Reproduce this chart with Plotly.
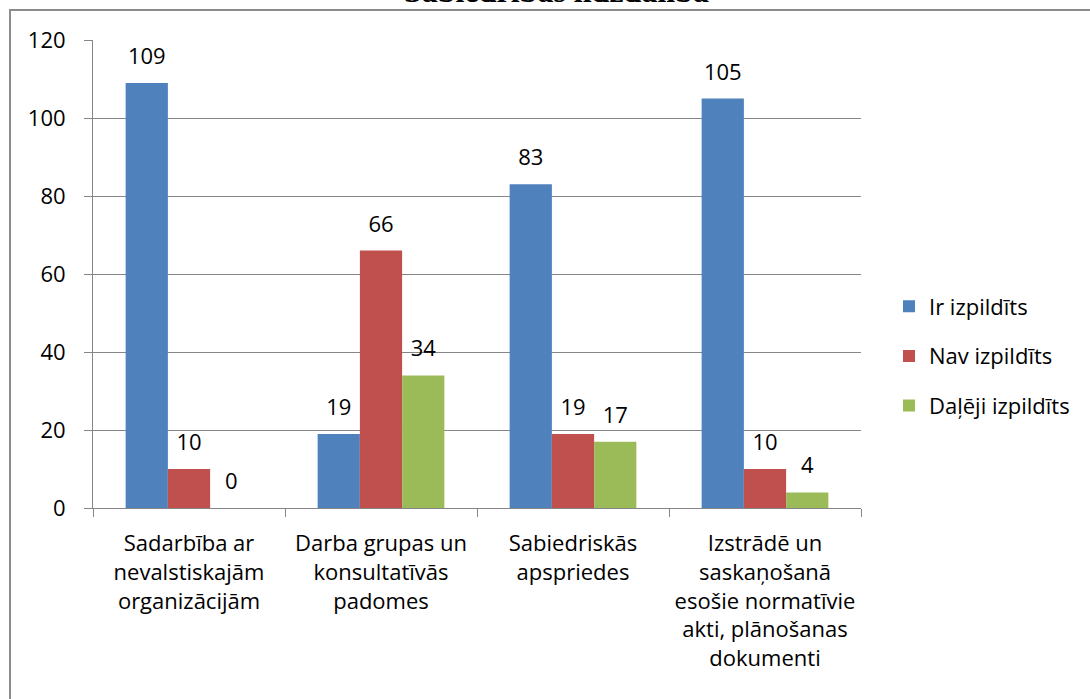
import plotly.graph_objects as go

categories = [
    "Sadarbība ar<br>nevalstiskajām<br>organizācijām",
    "Darba grupas un<br>konsultatīvās<br>padomes",
    "Sabiedriskās<br>apspriedes",
    "Izstrādē un<br>saskaņošanā<br>esošie normatīvie<br>akti, plānošanas<br>dokumenti",
]
series_names = ["Ir izpildīts", "Nav izpildīts", "Daļēji izpildīts"]
ir_izpildits = [109, 19, 83, 105]
nav_izpildits = [10, 66, 19, 10]
daleji_izpildits = [0, 34, 17, 4]
colors = ["#4F81BD", "#C0504D", "#9BBB59"]
y_ticks = [0, 20, 40, 60, 80, 100, 120]
title_text = "Sabiedrības līdzdalība"

FONT = "Open Sans"
FS = 22
W, H = 1090, 699
PX0, PX1, PY0, PY1 = 93, 861, 40, 508
L, T = PX0, PY0
R, B = W - PX1, H - PY1
pw, ph = PX1 - PX0, PY1 - PY0


def px_x(p):
    return (p - PX0) / pw


def px_y(p):
    return (PY1 - p) / ph


fig = go.Figure()
all_series = [ir_izpildits, nav_izpildits, daleji_izpildits]
for i, (name, vals) in enumerate(zip(series_names, all_series)):
    fig.add_trace(go.Bar(
        x=categories, y=vals, name=name, marker_color=colors[i],
        marker_line_width=0, offsetgroup=str(i), legendgroup=str(i),
    ))
for i, vals in enumerate(all_series):
    fig.add_trace(go.Scatter(
        x=categories, y=vals, mode="markers+text", text=[str(v) for v in vals],
        textposition="top center", textfont=dict(family=FONT, size=FS, color="#000"),
        marker=dict(size=20, opacity=0), offsetgroup=str(i), showlegend=False,
        hoverinfo="skip", cliponaxis=False,
    ))

fig.update_layout(
    width=W, height=H,
    margin=dict(l=L, r=R, t=T, b=B),
    paper_bgcolor="white", plot_bgcolor="white",
    barmode="group", scattermode="group", bargap=0.34, bargroupgap=0,
    font=dict(family=FONT, size=FS, color="#000"),
    showlegend=True,
    legend=dict(x=px_x(889), xanchor="left", y=px_y(356), yanchor="middle",
                font=dict(family=FONT, size=FS, color="#000"), tracegroupgap=18,
                itemwidth=30, bgcolor="rgba(0,0,0,0)"),
    xaxis=dict(showline=True, linecolor="#868686", linewidth=1, ticks="outside",
               tickson="boundaries", ticklen=8, tickcolor="#868686",
               tickfont=dict(family=FONT, size=FS, color="#000"), ticklabelstandoff=16),
    yaxis=dict(range=[0, 120], tickvals=y_ticks, showline=True, linecolor="#868686",
               linewidth=1, ticks="outside", ticklen=8, tickcolor="#868686",
               showgrid=True, gridcolor="#868686", gridwidth=1, zeroline=False,
               tickfont=dict(family=FONT, size=FS, color="#000"), ticklabelstandoff=14),
)

fig.add_shape(type="rect", xref="paper", yref="paper",
              x0=px_x(10), x1=px_x(1120),
              y0=px_y(730), y1=px_y(10),
              line=dict(color="#8C8C8C", width=2), fillcolor="rgba(0,0,0,0)", layer="below")

fig.add_annotation(text="<b>" + title_text + "</b>", xref="paper", yref="paper",
                   x=px_x(556), y=1, yanchor="bottom", yshift=29, showarrow=False,
                   font=dict(family="Liberation Serif", size=32, color="#000"))

fig.write_html("out.html", config={"displayModeBar": False},
               post_script="document.body.style.margin='0';")
